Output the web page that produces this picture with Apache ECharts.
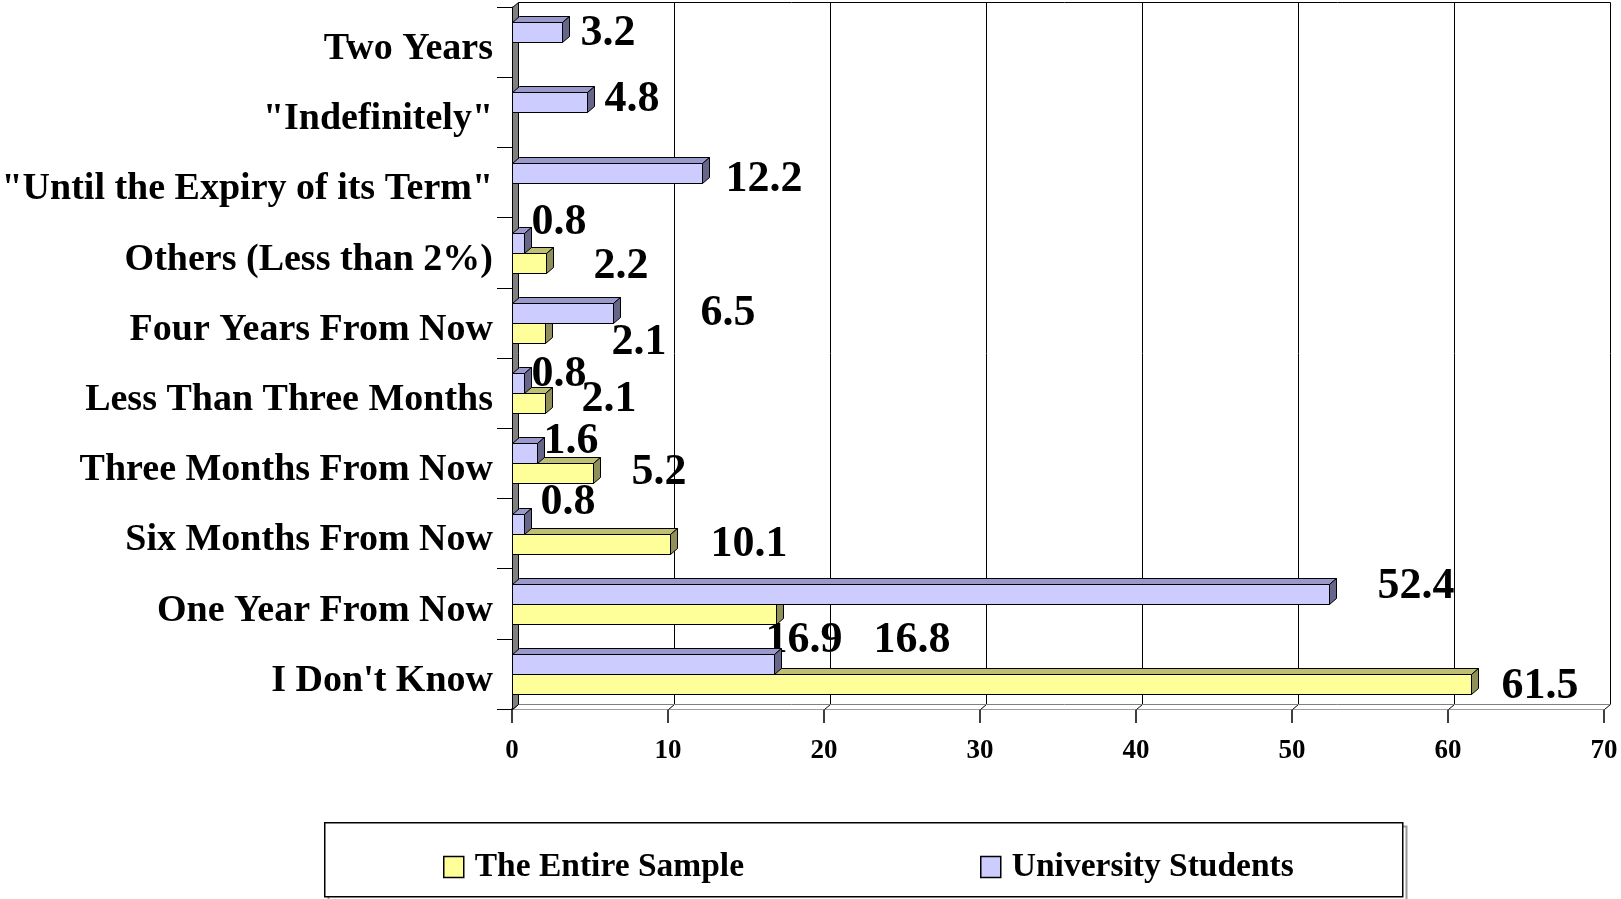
<!DOCTYPE html>
<html>
<head>
<meta charset="utf-8">
<script src="https://cdn.jsdelivr.net/npm/echarts@6/dist/echarts.min.js"></script>
<style>
  html, body { margin: 0; padding: 0; background: #fff; }
  #chart { width: 1621px; height: 899px; }
</style>
</head>
<body>
<div id="chart"></div>
<script>
// Categories listed from the bottom of the axis upwards
const categories = [
  "I Don't Know",
  "One Year From Now",
  "Six Months From Now",
  "Three Months From Now",
  "Less Than Three Months",
  "Four Years From Now",
  "Others (Less than 2%)",
  "\"Until the Expiry of its Term\"",
  "\"Indefinitely\"",
  "Two Years"
];
const entireSample = [61.5, 16.9, 10.1, 5.2, 2.1, 2.1, 2.2, null, null, null];
const universityStudents = [16.8, 52.4, 0.8, 1.6, 0.8, 6.5, 0.8, 12.2, 4.8, 3.2];
const xMin = 0, xMax = 70, xStep = 10;

// Per-bar nudges [dx, dy] (px) of the value labels, measured from the bar's end face
const entireLabelShift = [[25, -2], [-16, 22], [35, -4], [33, -5], [31, -8], [61, 5], [42, -1], null, null, null];
const studentLabelShift = [[94, -28], [43, -12], [11, -26], [1, -16], [2, -13], [82, -4], [2, -25], [18, 2], [12, -7], [13, -3]];

const SERIF = '"Liberation Serif", "Times New Roman", serif';
const yellowFaces = { front: '#FFFF99', top: '#BFBF73', side: '#8F8F5A' };
const purpleFaces = { front: '#CCCCFF', top: '#9999CC', side: '#66668A' };

function toPairs(values) {
  const out = [];
  values.forEach((v, i) => { if (v !== null) out.push([v, i]); });
  return out;
}

const crisp = (x) => Math.round(x) + 0.5;

// Draws a box-shaped bar: top face, end face, then the front face, plus its value label
function barRenderer(faces, shifts, below) {
  return function (params, api) {
    const v = api.value(0), idx = api.value(1);
    const end = api.coord([v, idx]);
    const start = api.coord([0, idx]);
    const band = api.size([0, 1])[1];
    const h = Math.round(band * 0.285);
    const yT = Math.round(below ? end[1] : end[1] - h) + 0.5;
    const yB = yT + h;
    const x0 = crisp(start[0]), x1 = crisp(end[0]);
    const dx = 7, dy = 6;
    const line = { stroke: '#000', lineWidth: 1 };
    const children = [
      { type: 'polygon', shape: { points: [[x0, yT], [x1, yT], [x1 + dx, yT - dy], [x0 + dx, yT - dy]] },
        style: Object.assign({ fill: faces.top }, line) },
      { type: 'polygon', shape: { points: [[x1, yT], [x1 + dx, yT - dy], [x1 + dx, yB - dy], [x1, yB]] },
        style: Object.assign({ fill: faces.side }, line) },
      { type: 'rect', shape: { x: x0, y: yT, width: x1 - x0, height: h },
        style: Object.assign({ fill: faces.front }, line) }
    ];
    const s = shifts[idx];
    if (s) {
      children.push({
        type: 'text', x: x1 + dx + s[0] - 2, y: (yT + yB) / 2 + s[1] + 4.5, z2: 10,
        style: { text: String(v), fill: '#000', font: 'bold 44px ' + SERIF, align: 'left', verticalAlign: 'middle' }
      });
    }
    return { type: 'group', children: children };
  };
}

// Back wall, floor and left side wall of the plot box
function frameRenderer(params, api) {
  const cs = params.coordSys;
  const yT = Math.round(cs.y) + 0.5, yB = Math.round(cs.y + cs.height) + 0.5;
  const dx = 6, dy = 5;
  const xs = [];
  for (let v = xMin; v <= xMax; v += xStep) xs.push(crisp(api.coord([v, 0])[0]));
  const x0 = xs[0], xN = xs[xs.length - 1];
  const children = [];
  children.push({ type: 'polygon', shape: { points: [[x0, yB], [xN, yB], [xN + dx, yB - dy], [x0 + dx, yB - dy]] },
    style: { fill: '#fff', stroke: null } });
  xs.forEach((x, i) => {
    if (i > 0) {
      children.push({ type: 'line', shape: { x1: x + dx, y1: yT - dy, x2: x + dx, y2: yB - dy },
        style: { stroke: '#000', lineWidth: 1 } });
    }
    children.push({ type: 'line', shape: { x1: x, y1: yB, x2: x + dx, y2: yB - dy },
      style: { stroke: '#000', lineWidth: 1 } });
  });
  children.push({ type: 'line', shape: { x1: x0 + dx, y1: yT - dy, x2: xN + dx, y2: yT - dy },
    style: { stroke: '#000', lineWidth: 1 } });
  children.push({ type: 'line', shape: { x1: x0 + dx, y1: yB - dy, x2: xN + dx, y2: yB - dy },
    style: { stroke: '#808080', lineWidth: 1 } });
  children.push({ type: 'polygon', shape: { points: [[x0, yT], [x0 + dx, yT - dy], [x0 + dx, yB - dy], [x0, yB]] },
    style: { fill: '#808080', stroke: '#000', lineWidth: 1 } });
  return { type: 'group', children: children };
}

const chart = echarts.init(document.getElementById('chart'), null, { renderer: 'canvas' });
chart.setOption({
  animation: false,
  backgroundColor: '#fff',
  grid: { left: 512, top: 7, width: 1092, height: 702, containLabel: false, outerBoundsMode: 'none' },
  xAxis: {
    type: 'value', min: xMin, max: xMax, interval: xStep,
    axisLine: { show: true, lineStyle: { color: '#000', width: 1.5 } },
    axisTick: { show: true, length: 14, lineStyle: { color: '#000', width: 1.5 } },
    axisLabel: { color: '#000', fontFamily: SERIF, fontWeight: 'bold', fontSize: 27, margin: 29 },
    splitLine: { show: false }
  },
  yAxis: {
    type: 'category', data: categories,
    axisLine: { show: true, lineStyle: { color: '#000', width: 1 } },
    axisTick: { show: true, length: 15, lineStyle: { color: '#000', width: 1 } },
    axisLabel: {
      color: '#000', margin: 19,
      formatter: (v) => '{c|' + v + '}',
      rich: { c: { color: '#000', fontFamily: SERIF, fontWeight: 'bold', fontSize: 38, padding: [14, 0, 0, 0] } }
    },
    splitLine: { show: false }
  },
  legend: {
    data: ['The Entire Sample', 'University Students'],
    left: 438, top: 845,
    icon: 'rect', itemWidth: 20, itemHeight: 21, itemGap: 236,
    itemStyle: { borderColor: '#000', borderWidth: 1.5 },
    textStyle: { color: '#000', fontFamily: SERIF, fontWeight: 'bold', fontSize: 33.5, lineHeight: 33, padding: [0, 0, 0, 6] }
  },
  graphic: [
    { type: 'rect', left: 326, top: 824, shape: { width: 1078, height: 75 }, style: { fill: null, stroke: '#9a9a9a', lineWidth: 2 }, z: 0 },
    { type: 'rect', left: 324, top: 822, shape: { width: 1078, height: 74 }, style: { fill: '#fff', stroke: '#000', lineWidth: 1.5 }, z: 1 }
  ],
  series: [
    { type: 'custom', name: 'frame', silent: true, z: 1, renderItem: frameRenderer, data: [[0, 0]] },
    { type: 'custom', name: 'The Entire Sample', z: 3, itemStyle: { color: yellowFaces.front },
      renderItem: barRenderer(yellowFaces, entireLabelShift, true), data: toPairs(entireSample) },
    { type: 'custom', name: 'University Students', z: 4, itemStyle: { color: purpleFaces.front },
      renderItem: barRenderer(purpleFaces, studentLabelShift, false), data: toPairs(universityStudents) }
  ]
});
</script>
</body>
</html>
